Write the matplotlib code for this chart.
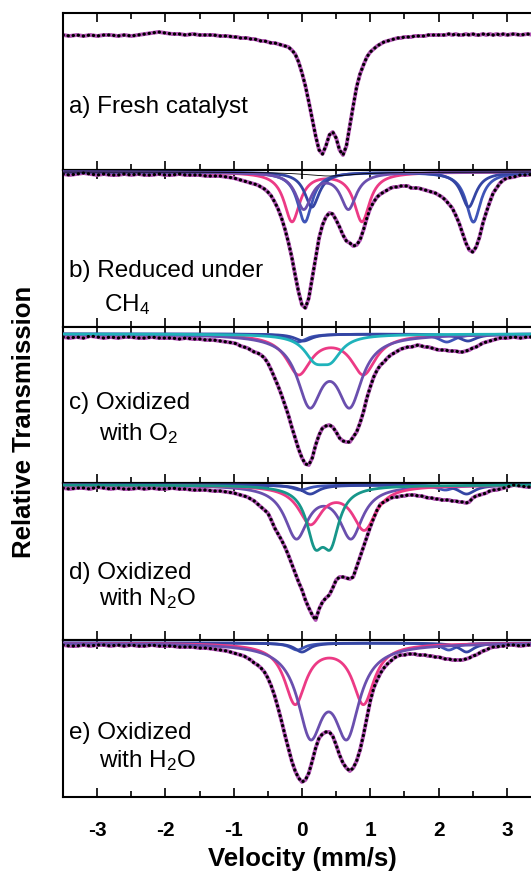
import numpy as np
import matplotlib
matplotlib.use("Agg")
import matplotlib.pyplot as plt
from matplotlib.ticker import MultipleLocator

plt.rcParams['font.family'] = ['Liberation Sans', 'DejaVu Sans']
plt.rcParams['mathtext.fontset'] = 'custom'
plt.rcParams['mathtext.rm'] = 'Liberation Sans'
plt.rcParams['axes.unicode_minus'] = False

# velocity channels (mm/s) the spectra were read at
velocity = np.round(np.concatenate([np.linspace(-3.5, -1.1, 25),
                                    np.linspace(-1.0, 3.0, 81),
                                    np.linspace(3.1, 3.5, 5)]), 2)

absorb_a = [1, 2, 1, 2, 1, 2, 1, 1, 2, 1, 2, 1, 0, -1, -2, -1, 0, 0, 1, 0, 1, 1, 1, 2, 2,
            3, 3, 4, 4, 4, 5, 5, 6, 7, 7, 8, 9, 9, 10, 11, 12, 13, 16, 20, 28,
            39, 52, 68, 85, 102, 116, 120, 112, 101, 98, 104, 116, 121, 112, 92, 72, 53, 40, 31, 23,
            18, 15, 12, 10, 8, 7, 6, 5, 4, 4, 3, 3, 3, 2, 2, 2, 2, 1, 1, 1,
            1, 1, 1, 0, 1, 0, 1, 1, 0, 1, 0, 1, 1, 0, 1, 0, 1, 0, 1, 0,
            1,
            0, 1, 0, 1, 0]
absorb_b = [0, 1, 0, -1, 0, 1, 0, 1, 1, 0, 1, 0, 1, 1, 0, 1, 1, 0, 1, 1, 1, 2, 2, 2, 3,
            4, 5, 6, 7, 8, 9, 10, 11, 13, 15, 18, 22, 28, 35, 44, 55, 68, 83, 101, 118,
            131, 134, 124, 104, 84, 64, 51, 43, 39, 40, 46, 53, 61, 67, 69, 72, 71, 66, 56, 44,
            34, 28, 23, 20, 18, 16, 14, 13, 13, 12, 12, 12, 14, 14, 14, 15, 16, 17, 18, 19,
            21, 23, 26, 30, 34, 41, 49, 59, 69, 76, 78, 73, 63, 49, 38, 28, 19, 14, 9, 6,
            4,
            3, 1, 1, 0, 1]
absorb_c = [0, 1, 0, 1, -1, 0, 1, 0, 1, 0, 0, 1, 1, 0, 1, 1, 1, 2, 1, 2, 2, 3, 3, 4, 5,
            6, 7, 9, 10, 11, 13, 15, 16, 18, 21, 26, 33, 41, 49, 58, 68, 78, 90, 101, 112,
            121, 127, 128, 121, 108, 98, 91, 89, 88, 90, 95, 101, 104, 105, 105, 100, 95, 86, 75, 61,
            50, 40, 33, 28, 25, 21, 18, 16, 14, 12, 11, 10, 10, 9, 8, 9, 10, 10, 11, 12,
            13, 13, 13, 14, 14, 14, 15, 15, 14, 13, 11, 10, 8, 6, 5, 4, 3, 2, 1, 1,
            1,
            0, 1, 0, 0, 1]
absorb_d = [0, 1, 0, 0, 1, -1, 0, 1, 0, 1, 1, 0, 1, 0, 1, 1, 0, 1, 1, 2, 2, 2, 3, 3, 4,
            5, 6, 7, 8, 9, 11, 13, 16, 19, 22, 25, 32, 40, 46, 52, 59, 67, 76, 85, 94,
            102, 112, 120, 127, 132, 121, 114, 110, 107, 100, 92, 89, 89, 90, 91, 89, 79, 69, 59, 49,
            39, 30, 22, 16, 14, 12, 10, 9, 9, 8, 8, 7, 7, 7, 8, 8, 9, 10, 10, 11,
            11, 12, 12, 12, 13, 13, 14, 14, 15, 14, 10, 8, 7, 6, 5, 3, 2, 2, 1, 0,
            -1,
            -3, -2, -1, -1, -1]
absorb_e = [0, 1, 1, 0, 1, 0, 0, 1, 0, 1, 0, 1, 1, 0, 1, 1, 1, 2, 2, 2, 3, 3, 4, 5, 6,
            8, 9, 10, 11, 13, 15, 18, 20, 23, 27, 33, 41, 51, 63, 76, 90, 103, 116, 126, 133,
            137, 135, 128, 116, 103, 93, 89, 87, 87, 91, 100, 110, 118, 123, 126, 123, 116, 105, 90, 73,
            56, 43, 35, 28, 23, 19, 16, 13, 11, 10, 10, 9, 9, 9, 10, 10, 10, 11, 11, 12,
            12, 13, 14, 14, 15, 15, 15, 15, 14, 13, 11, 10, 8, 6, 5, 3, 2, 2, 1, 1,
            0,
            0, 1, 0, 0, 1]

# fitted doublets per panel: kind, (line positions), (line depths), half width
comp_b = [('pink', (-0.146, 0.878), (49, 49), 0.14),
          ('blue', (0.04, 2.51), (50, 50), 0.13),
          ('navy', (0.146, 2.44), (35, 35), 0.13),
          ('purple', (0.025, 0.68), (36, 36), 0.14),
          ('broad', (0.4, 0.4), (2, 2), 0.45)]
comp_c = [('blue', (-0.06, 2.12), (8, 8), 0.15),
          ('navy', (0.02, 2.43), (7, 7), 0.15),
          ('pink', (-0.05, 0.90), (39, 39), 0.22),
          ('purple', (0.112, 0.70), (66, 66), 0.22),
          ('cyan', (0.19, 0.42), (21, 21), 0.19)]
comp_d = [('blue', (-0.02, 2.1), (5, 5), 0.15),
          ('navy', (0.12, 2.41), (9, 9), 0.15),
          ('purple', (-0.083, 0.717), (51, 51), 0.205),
          ('pink', (0.122, 0.912), (37, 43), 0.21),
          ('teal', (0.19, 0.42), (49.5, 49.5), 0.15)]
comp_e = [('blue', (-0.07, 2.15), (7, 7), 0.13),
          ('navy', (0.0, 2.41), (9, 9), 0.13),
          ('pink', (-0.10, 0.90), (59.6, 59.6), 0.19),
          ('purple', (0.122, 0.659), (84.4, 84.4), 0.223)]

# baseline of the drawn components relative to the data baseline (per mille)
comp_shift = [0, 2, 3, 3, 2]

labels = [["a) Fresh catalyst"],
          ["b) Reduced under", r"$\mathregular{CH_4}$"],
          ["c) Oxidized", r"with O$\mathregular{_2}$"],
          ["d) Oxidized", r"with N$\mathregular{_2}$O"],
          ["e) Oxidized", r"with H$\mathregular{_2}$O"]]

colors = {'pink': '#ec3a85', 'purple': '#6a4fae', 'blue': '#3f55b8',
          'navy': '#3445a3', 'cyan': '#1fb3bb', 'teal': '#17968a', 'broad': 'black'}

spectra = [absorb_a, absorb_b, absorb_c, absorb_d, absorb_e]
components = [[], comp_b, comp_c, comp_d, comp_e]
ylims = [(86.42, 102.1), (84.74, 100.42), (85.36, 101.04), (84.78, 100.46), (84.8, 100.48)]
label_y = [[0.364], [0.314, 0.10], [0.474, 0.275], [0.392, 0.223], [0.369, 0.188]]

fig = plt.figure(figsize=(5.31, 8.72), dpi=100)
vfine = np.linspace(-3.5, 3.5, 800)

left, width = 63 / 531, 478 / 531
panel_h = 156.8
for i in range(5):
    top_px = 13 + panel_h * i
    ax = fig.add_axes([left, 1 - (top_px + panel_h) / 872, width, panel_h / 872])

    trans = 100 - np.array(spectra[i]) / 10.0
    ax.plot(velocity, trans, color='#b355b5', lw=2.8, zorder=2)

    for kind, pos, depth, g in components[i]:
        a = np.zeros_like(vfine)
        for c, d in zip(pos, depth):
            a += d * g**2 / ((vfine - c)**2 + g**2)
        lw = 0.6 if kind == 'broad' else 2.0
        ax.plot(vfine, 100 + comp_shift[i] / 10.0 - a / 10.0, color=colors[kind], lw=lw, zorder=3)

    ax.plot(velocity, trans, color='black', lw=2.3, ls=(0, (0.1, 1.5)),
            dash_capstyle='round', zorder=4)

    ax.set_xlim(-3.5, 3.5)
    ax.set_ylim(*ylims[i])
    ax.set_yticks([])
    ax.xaxis.set_major_locator(MultipleLocator(1))
    ax.xaxis.set_minor_locator(MultipleLocator(0.5))
    ax.tick_params(axis='x', which='both', direction='in', top=True, bottom=True, width=1.2)
    ax.tick_params(axis='x', which='major', length=6.5, pad=17, labelsize=15)
    ax.tick_params(axis='x', which='minor', length=4)
    for sp in ax.spines.values():
        sp.set_linewidth(1.5)
    if i < 4:
        ax.tick_params(axis='x', labelbottom=False)
    else:
        for t in ax.get_xticklabels():
            t.set_fontweight('bold')

    for j, line in enumerate(labels[i]):
        xpos = -3.41 if j == 0 else (-2.9 if i == 1 else -2.97)
        ax.text(xpos, label_y[i][j], line, transform=ax.get_xaxis_transform(),
                fontsize=17.5, va='baseline', ha='left')

fig.text(302 / 531, 1 - 859 / 872, "Velocity (mm/s)", fontsize=18.5, fontweight='bold',
         ha='center', va='center')
fig.text(24 / 531, 1 - 422 / 872, "Relative Transmission", fontsize=18.5, fontweight='bold',
         ha='center', va='center', rotation=90)

fig.savefig("out.png", dpi=100)
